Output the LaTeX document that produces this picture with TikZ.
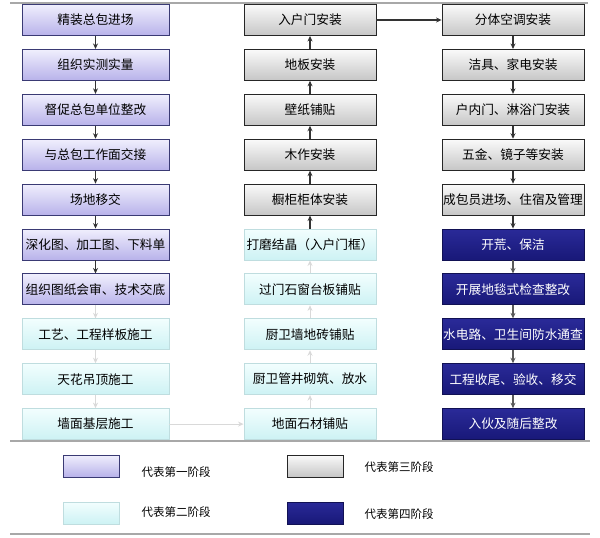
\documentclass[tikz,border=0pt]{standalone}
\usepackage{fontspec}
\newfontfamily\cjk{Noto Sans CJK SC}
\usetikzlibrary{arrows.meta}
\definecolor{oneTop}{HTML}{F0EFFD}
\definecolor{oneBot}{HTML}{B8B2EA}
\definecolor{oneLine}{HTML}{3A3A74}
\definecolor{twoTop}{HTML}{F2FEFE}
\definecolor{twoBot}{HTML}{CDF2F4}
\definecolor{twoLine}{HTML}{BFDDDF}
\definecolor{threeTop}{HTML}{FAFAFA}
\definecolor{threeBot}{HTML}{C6C6C6}
\definecolor{fourTop}{HTML}{2A2A98}
\definecolor{fourBot}{HTML}{181878}
\definecolor{ruleGray}{HTML}{A8A8A8}
\tikzset{
  box/.style={rectangle, minimum height=31pt, inner sep=0pt,
    font=\cjk\fontsize{12.7}{14}\selectfont},
  phaseone/.style={box, draw=oneLine, line width=0.9pt, top color=oneTop, bottom color=oneBot},
  phasetwo/.style={box, draw=twoLine, line width=0.9pt, top color=twoTop, bottom color=twoBot},
  phasethree/.style={box, draw=black!85, line width=0.9pt, top color=threeTop, bottom color=threeBot},
  phasefour/.style={box, draw=fourBot!70!black, line width=0.9pt, top color=fourTop, bottom color=fourBot, text=white},
  darkarr/.style={-{Stealth[length=5.5pt,width=5pt]}, line width=1.1pt, black!80},
  lightarr/.style={-{Stealth[length=5.5pt,width=5pt]}, line width=1pt, black!15},
  legtext/.style={anchor=west, font=\cjk\fontsize{11.5}{13}\selectfont}
}
\begin{document}
\begin{tikzpicture}[x=1pt, y=-1pt]
    \useasboundingbox (0,0) rectangle (600,538);
    % rules
    \draw[ruleGray, line width=1.3pt] (10,3) -- (588,3);
    \draw[ruleGray, line width=1.3pt] (10,441) -- (590,441);
    \draw[ruleGray, line width=1.3pt] (10,534) -- (590,534);

    % Column 1
    \node[phaseone, minimum width=147pt] (a1) at (95.5,20) {精装总包进场};
    \node[phaseone, minimum width=147pt] (a2) at (95.5,64.9) {组织实测实量};
    \node[phaseone, minimum width=147pt] (a3) at (95.5,109.8) {督促总包单位整改};
    \node[phaseone, minimum width=147pt] (a4) at (95.5,154.7) {与总包工作面交接};
    \node[phaseone, minimum width=147pt] (a5) at (95.5,199.6) {场地移交};
    \node[phaseone, minimum width=147pt] (a6) at (95.5,244.5) {深化图、加工图、下料单};
    \node[phaseone, minimum width=147pt] (a7) at (95.5,289.4) {组织图纸会审、技术交底};
    \node[phasetwo, minimum width=147pt] (a8) at (95.5,334.3) {工艺、工程样板施工};
    \node[phasetwo, minimum width=147pt] (a9) at (95.5,379.2) {天花吊顶施工};
    \node[phasetwo, minimum width=147pt] (a10) at (95.5,424.1) {墙面基层施工};

    \draw[darkarr] (a1) -- (a2);
    \draw[darkarr] (a2) -- (a3);
    \draw[darkarr] (a3) -- (a4);
    \draw[darkarr] (a4) -- (a5);
    \draw[darkarr] (a5) -- (a6);
    \draw[darkarr] (a6) -- (a7);
    \draw[lightarr] (a7) -- (a8);
    \draw[lightarr] (a8) -- (a9);
    \draw[lightarr] (a9) -- (a10);

    % Column 2
    \node[phasethree, minimum width=132pt] (b1) at (310,20) {入户门安装};
    \node[phasethree, minimum width=132pt] (b2) at (310,64.9) {地板安装};
    \node[phasethree, minimum width=132pt] (b3) at (310,109.8) {壁纸铺贴};
    \node[phasethree, minimum width=132pt] (b4) at (310,154.7) {木作安装};
    \node[phasethree, minimum width=132pt] (b5) at (310,199.6) {橱柜柜体安装};
    \node[phasetwo, minimum width=132pt] (b6) at (310,244.5) {打磨结晶（入户门框）};
    \node[phasetwo, minimum width=132pt] (b7) at (310,289.4) {过门石窗台板铺贴};
    \node[phasetwo, minimum width=132pt] (b8) at (310,334.3) {厨卫墙地砖铺贴};
    \node[phasetwo, minimum width=132pt] (b9) at (310,379.2) {厨卫管井砌筑、放水};
    \node[phasetwo, minimum width=132pt] (b10) at (310,424.1) {地面石材铺贴};

    \draw[lightarr] (a10) -- (b10);
    \draw[lightarr] (b10) -- (b9);
    \draw[lightarr] (b9) -- (b8);
    \draw[lightarr] (b8) -- (b7);
    \draw[lightarr] (b7) -- (b6);
    \draw[darkarr] (b6) -- (b5);
    \draw[darkarr] (b5) -- (b4);
    \draw[darkarr] (b4) -- (b3);
    \draw[darkarr] (b3) -- (b2);
    \draw[darkarr] (b2) -- (b1);

    % Column 3
    \node[phasethree, minimum width=142pt] (c1) at (513,20) {分体空调安装};
    \node[phasethree, minimum width=142pt] (c2) at (513,64.9) {洁具、家电安装};
    \node[phasethree, minimum width=142pt] (c3) at (513,109.8) {户内门、淋浴门安装};
    \node[phasethree, minimum width=142pt] (c4) at (513,154.7) {五金、镜子等安装};
    \node[phasethree, minimum width=142pt] (c5) at (513,199.6) {成包员进场、住宿及管理};
    \node[phasefour, minimum width=142pt] (c6) at (513,244.5) {开荒、保洁};
    \node[phasefour, minimum width=142pt] (c7) at (513,289.4) {开展地毯式检查整改};
    \node[phasefour, minimum width=142pt] (c8) at (513,334.3) {水电路、卫生间防水通查};
    \node[phasefour, minimum width=142pt] (c9) at (513,379.2) {工程收尾、验收、移交};
    \node[phasefour, minimum width=142pt] (c10) at (513,424.1) {入伙及随后整改};

    \draw[darkarr] (b1) -- (c1);
    \draw[darkarr] (c1) -- (c2);
    \draw[darkarr] (c2) -- (c3);
    \draw[darkarr] (c3) -- (c4);
    \draw[darkarr] (c4) -- (c5);
    \draw[darkarr] (c5) -- (c6);
    \draw[darkarr, black!65] (c6) -- (c7);
    \draw[darkarr, black!65] (c7) -- (c8);
    \draw[darkarr, black!65] (c8) -- (c9);
    \draw[darkarr, black!65] (c9) -- (c10);

    % Legend
    \node[phaseone, minimum width=56pt, minimum height=22pt] (leg1) at (91,466) {};
    \node[legtext] (legt1) at (138,472) {代表第一阶段};
    \node[phasetwo, minimum width=56pt, minimum height=22pt] (leg2) at (91,513) {};
    \node[legtext] (legt2) at (138,512) {代表第二阶段};
    \node[phasethree, minimum width=56pt, minimum height=22pt] (leg3) at (315,466) {};
    \node[legtext] (legt3) at (361,467) {代表第三阶段};
    \node[phasefour, minimum width=56pt, minimum height=22pt] (leg4) at (315,513) {};
    \node[legtext] (legt4) at (361,514) {代表第四阶段};
\end{tikzpicture}
\end{document}
